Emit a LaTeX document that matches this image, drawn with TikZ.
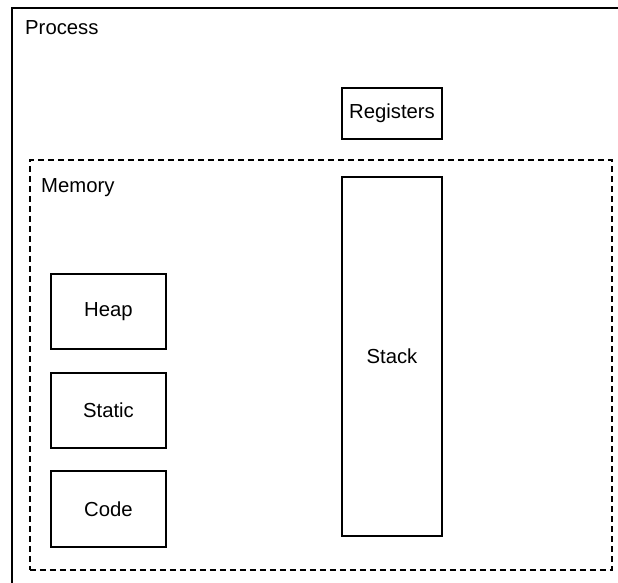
\documentclass[tikz,border=0pt]{standalone}
\usepackage{fontspec}
\setmainfont{Liberation Sans}
\begin{document}
\begin{tikzpicture}[x=1pt,y=-1pt,
  lbl/.style={font=\fontsize{20.3}{24}\selectfont,inner sep=0pt},
  solidbox/.style={draw=black,line width=1.6pt,inner sep=0pt},
  dashbox/.style={draw=black,line width=1.6pt,dash pattern=on 6pt off 4pt,inner sep=0pt}]
\useasboundingbox (0,0) rectangle (618,582);
\clip (0,0) rectangle (618,582);
\fill[white] (0,0) rectangle (618,582);
% outer process box (extends beyond the visible area)
\node[solidbox,minimum width=700pt,minimum height=700pt,anchor=north west] (process) at (11,7) {};
\node[lbl,anchor=base west] (processlbl) at (25,34) {Process};
% memory region
\node[dashbox,minimum width=582pt,minimum height=410pt,anchor=north west] (memory) at (29,159) {};
\node[lbl,anchor=base west] (memorylbl) at (41,192) {Memory};
% registers
\node[solidbox,minimum width=100pt,minimum height=51pt,lbl] (registers) at (392,113.5) {Registers};
% stack
\node[solidbox,minimum width=100pt,minimum height=359pt,lbl] (stack) at (392,356.5) {Stack};
% heap, static, code
\node[solidbox,minimum width=115pt,minimum height=75pt,lbl] (heap) at (108.5,311.5) {Heap};
\node[solidbox,minimum width=115pt,minimum height=75pt,lbl] (static) at (108.5,410.5) {Static};
\node[solidbox,minimum width=115pt,minimum height=76pt,lbl] (code) at (108.5,509) {Code};
\end{tikzpicture}
\end{document}
